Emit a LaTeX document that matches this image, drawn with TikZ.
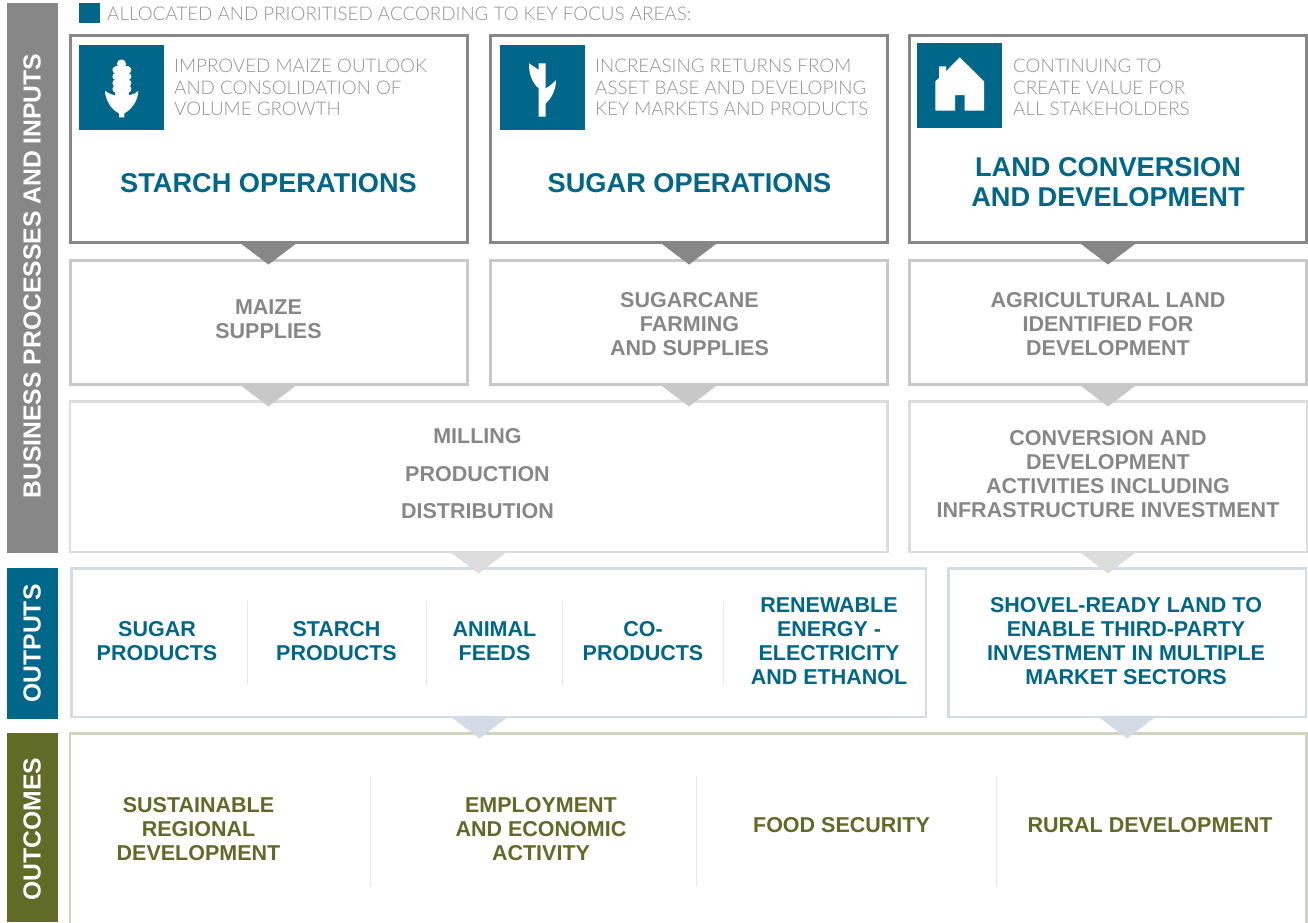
\documentclass[tikz,border=0pt]{standalone}
\usepackage{fontspec}
\setmainfont{Liberation Sans}
\newfontfamily\lightfont{Lato Light}
\definecolor{cblue}{HTML}{00678A}
\definecolor{cgray}{HTML}{878787}
\definecolor{colive}{HTML}{606B27}
\definecolor{ctext}{HTML}{939393}
\definecolor{bmid}{HTML}{C8C8C8}
\definecolor{blight}{HTML}{DDDDDD}
\definecolor{bpale}{HTML}{D3DCE6}
\definecolor{bolive}{HTML}{D0D3BD}
\definecolor{cdiv}{HTML}{E6E6E6}
\tikzset{
  box/.style={rectangle,draw=#1,line width=3pt,fill=white,inner sep=0pt},
  thinbox/.style={rectangle,draw=#1,line width=2.5pt,fill=white,inner sep=0pt},
  bar/.style={rectangle,fill=#1,inner sep=0pt,minimum width=51pt},
  sidelabel/.style={rotate=90,text=white,font=\fontsize{24.7}{26}\selectfont\bfseries,inner sep=0pt},
  icon/.style={rectangle,fill=cblue,inner sep=0pt,minimum width=85pt,minimum height=85pt},
  lead/.style={anchor=west,align=left,inner sep=0pt,text=ctext,font=\fontsize{18.8}{21.6}\selectfont\lightfont},
  head/.style={align=center,inner sep=0pt,text=cblue,font=\fontsize{27.2}{30}\selectfont\bfseries},
  mid/.style={align=center,inner sep=0pt,text=cgray,font=\fontsize{21.5}{24}\selectfont\bfseries},
  output/.style={align=center,inner sep=0pt,text=cblue,font=\fontsize{21.5}{24}\selectfont\bfseries},
  outcome/.style={align=center,inner sep=0pt,text=colive,font=\fontsize{21.5}{24}\selectfont\bfseries},
  divider/.style={draw=cdiv,line width=1pt},
}
\newcommand{\chevron}[2]{\fill[#2] ([xshift=-29pt,yshift=1.5pt]#1.south) -- ([xshift=29pt,yshift=1.5pt]#1.south) -- ([yshift=-20.5pt]#1.south) -- cycle;}
\newcommand{\chevronat}[3]{\fill[#2] ([xshift=#3-29pt,yshift=1.5pt]#1.south) -- ([xshift=#3+29pt,yshift=1.5pt]#1.south) -- ([xshift=#3,yshift=-20.5pt]#1.south) -- cycle;}
\begin{document}
\begin{tikzpicture}[x=1pt,y=-1pt]
\useasboundingbox (0,0) rectangle (1308,922);
\fill[white] (0,0) rectangle (1308,922);
% side bars
\node[bar=cgray,minimum height=550pt] (barA) at (32.5,278) {};
\node[bar=cblue,minimum height=151pt] (barB) at (32.5,643.5) {};
\node[bar=colive,minimum height=189pt] (barC) at (32.5,827.5) {};
\node[sidelabel] (labA) at (32,276) {BUSINESS PROCESSES AND INPUTS};
\node[sidelabel] (labB) at (32,643.5) {OUTPUTS};
\node[sidelabel] (labC) at (32,829) {OUTCOMES};
% legend
\node[rectangle,fill=cblue,inner sep=0pt,minimum width=21pt,minimum height=20pt] (legend) at (89.5,13) {};
\node[anchor=west,inner sep=0pt,text=ctext,font=\fontsize{18.8}{20}\selectfont\lightfont] (legendtext) at (107,14) {ALLOCATED AND PRIORITISED ACCORDING TO KEY FOCUS AREAS:};
% outcome row
\node[thinbox=bolive,minimum width=1236.5pt,minimum height=196pt] (r5) at (688,831.5) {};
% output row
\node[thinbox=bpale,minimum width=854.5pt,minimum height=148.5pt] (r4a) at (498.5,642.5) {};
\node[thinbox=bpale,minimum width=357.5pt,minimum height=148.5pt] (r4b) at (1127,642.5) {};
% process rows
\node[thinbox=blight,minimum width=817.5pt,minimum height=150.5pt] (r3a) at (478.5,476.5) {};
\node[thinbox=blight,minimum width=397.5pt,minimum height=150.5pt] (r3b) at (1108,476.5) {};
\node[box=bmid,minimum width=397pt,minimum height=124pt] (r2a) at (268.5,322.5) {};
\node[box=bmid,minimum width=397pt,minimum height=124pt] (r2b) at (689,322.5) {};
\node[box=bmid,minimum width=397pt,minimum height=124pt] (r2c) at (1108,322.5) {};
\node[box=cgray,minimum width=397pt,minimum height=207pt] (r1a) at (268.5,139) {};
\node[box=cgray,minimum width=397pt,minimum height=207pt] (r1b) at (689,139) {};
\node[box=cgray,minimum width=397pt,minimum height=207pt] (r1c) at (1108,139) {};
% connectors
\chevron{r1a}{cgray}
\chevron{r1b}{cgray}
\chevron{r1c}{cgray}
\chevron{r2a}{bmid}
\chevron{r2b}{bmid}
\chevron{r2c}{bmid}
\chevron{r3a}{blight}
\chevron{r3b}{blight}
\chevronat{r4a}{bpale}{-19pt}
\chevron{r4b}{bpale}
% icons
\node[icon] (iconA) at (121.5,87.5) {};
\node[icon] (iconB) at (542.5,87.5) {};
\node[icon] (iconC) at (959.5,85.5) {};
% maize
\fill[white] (105,91) .. controls (108,93) and (111,94.5) .. (113.5,95) -- (130,95) .. controls (133,94.5) and (136,93) .. (138.3,91)
  .. controls (138,101) and (131,110) .. (124.3,113.3) -- (124.3,117.3) -- (119,117.3) -- (119,113.3)
  .. controls (112,110) and (105.5,101) .. (105,91) -- cycle;
\foreach \yy in {70,76.5,83,89}{\fill[white] (116,\yy) circle (3.6) (127.8,\yy) circle (3.6);}
\fill[white] (114.5,66) rectangle (129.3,96);
\fill[white] (121.5,64) circle (4.6);
% cane
\fill[white] (538.7,63.3) -- (545.7,63.3) -- (545.7,88.3) .. controls (549,86.5) and (553,83.5) .. (556,80)
  .. controls (556,90) and (551,99) .. (545.7,103.3) -- (545.7,116.7) -- (538.7,116.7) -- (538.7,88.3)
  .. controls (533,84) and (528.5,74) .. (529,63.3) .. controls (532,65.5) and (535.5,67.5) .. (538.7,70) -- cycle;
% house
\fill[white] (959.7,57.3) -- (984,81.3) -- (984,110.7) -- (964.7,110.7) -- (964.7,95) -- (955,95) -- (955,110.7) -- (935.3,110.7) -- (935.3,81.3) -- (939,78) -- (939,66.3) -- (946,66.3) -- (946,71.3) -- cycle;
% lead texts
\node[lead] (leadA) at (174,87.5) {IMPROVED MAIZE OUTLOOK\\AND CONSOLIDATION OF\\VOLUME GROWTH};
\node[lead] (leadB) at (595,87.5) {INCREASING RETURNS FROM\\ASSET BASE AND DEVELOPING\\KEY MARKETS AND PRODUCTS};
\node[lead] (leadC) at (1013,87.5) {CONTINUING TO\\CREATE VALUE FOR\\ALL STAKEHOLDERS};
\node[head] (headA) at (268.5,183) {STARCH OPERATIONS};
\node[head] (headB) at (689.5,183) {SUGAR OPERATIONS};
\node[head] (headC) at (1108,182) {LAND CONVERSION\\AND DEVELOPMENT};
% mid texts
\node[mid] (m2a) at (268.5,319) {MAIZE\\SUPPLIES};
\node[mid] (m2b) at (689.5,324) {SUGARCANE\\FARMING\\AND SUPPLIES};
\node[mid] (m2c) at (1108,324) {AGRICULTURAL LAND\\IDENTIFIED FOR\\DEVELOPMENT};
\node[mid,font=\fontsize{21.5}{37.5}\selectfont\bfseries] (m3a) at (477.5,474) {MILLING\\PRODUCTION\\DISTRIBUTION};
\node[mid] (m3b) at (1108,474) {CONVERSION AND\\DEVELOPMENT\\ACTIVITIES INCLUDING\\INFRASTRUCTURE INVESTMENT};
% outputs
\node[output] (o1) at (157,641) {SUGAR\\PRODUCTS};
\node[output] (o2) at (336.5,641) {STARCH\\PRODUCTS};
\node[output] (o3) at (494.5,641) {ANIMAL\\FEEDS};
\node[output] (o4) at (643,641) {CO-\\PRODUCTS};
\node[output] (o5) at (829,641) {RENEWABLE\\ENERGY -\\ELECTRICITY\\AND ETHANOL};
\node[output] (o6) at (1126,641) {SHOVEL-READY LAND TO\\ENABLE THIRD-PARTY\\INVESTMENT IN MULTIPLE\\MARKET SECTORS};
\draw[divider] (247,601) -- (247,685) (426,601) -- (426,685) (562,601) -- (562,685) (723.5,601) -- (723.5,685);
% outcomes
\node[outcome] (c1) at (198.5,829) {SUSTAINABLE\\REGIONAL\\DEVELOPMENT};
\node[outcome] (c2) at (541,829) {EMPLOYMENT\\AND ECONOMIC\\ACTIVITY};
\node[outcome] (c3) at (841.5,825) {FOOD SECURITY};
\node[outcome] (c4) at (1150,825) {RURAL DEVELOPMENT};
\draw[divider] (370.5,776) -- (370.5,886) (696.5,776) -- (696.5,886) (996.5,776) -- (996.5,886);
\end{tikzpicture}
\end{document}
